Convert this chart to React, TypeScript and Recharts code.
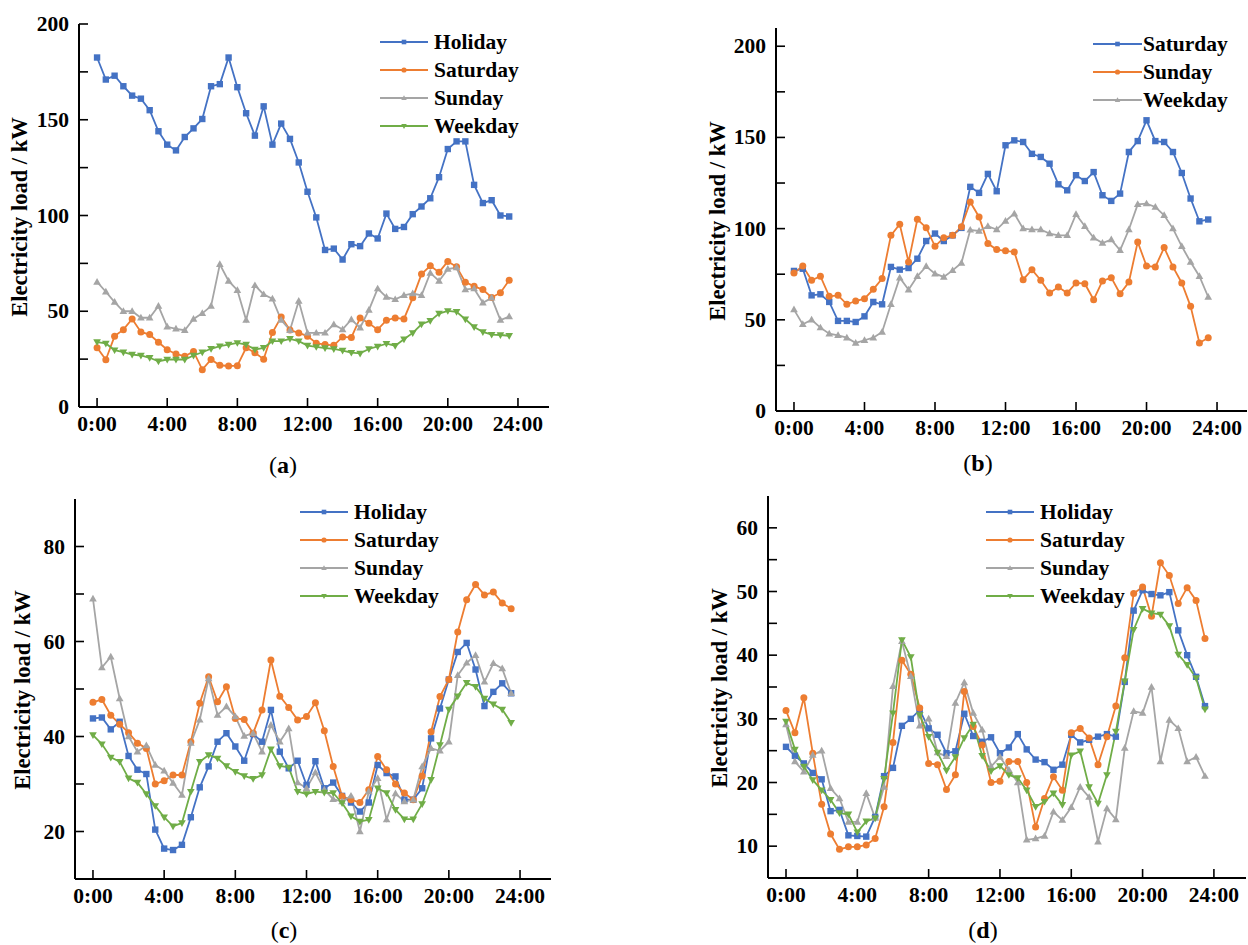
import React from 'react';
import { LineChart, Line, XAxis, YAxis } from 'recharts';

// half-hour sampling points (markers), 0:00 .. 23:30
const HOURS = [
  0, 0.5, 1, 1.5, 2, 2.5, 3, 3.5, 4, 4.5, 5, 5.5, 6, 6.5, 7, 7.5, 8, 8.5, 9, 9.5, 10, 10.5, 11, 11.5,
  12, 12.5, 13, 13.5, 14, 14.5, 15, 15.5, 16, 16.5, 17, 17.5, 18, 18.5, 19, 19.5, 20, 20.5, 21, 21.5,
  22, 22.5, 23, 23.5,
];
const X_TICKS = [0, 4, 8, 12, 16, 20, 24];
const X_LABELS = ['0:00', '4:00', '8:00', '12:00', '16:00', '20:00', '24:00'];

// (a)
const A_HOLIDAY = [
  182.5, 171, 173, 167.5, 162.6, 161, 155, 144, 137, 134, 141, 145.5, 150.4, 167.5, 168.6, 182.5,
  167, 153.4, 141.7, 157, 137, 148, 140, 127.7, 112.4, 99, 82, 82.7, 77, 85, 84, 90.6, 88, 101, 93,
  94, 100.7, 104.7, 109, 120, 134.7, 138.7, 138.7, 116, 106.5, 108, 100, 99.5,
];
const A_SATURDAY = [
  31, 24.7, 37, 40.4, 46, 39.2, 37.8, 33.8, 29.9, 27.7, 26.5, 29, 19.5, 24.8, 21.8, 21.4, 21.6, 30.9,
  28.3, 25, 38.9, 47, 40.2, 38.7, 37, 33.3, 32.6, 32.2, 36.6, 36.3, 46.5, 43.7, 40.4, 45.3, 46.5, 46,
  57, 69.4, 73.7, 70.4, 76, 73.2, 65.2, 63, 61.3, 57.2, 59.7, 66.2,
];
const A_SUNDAY = [
  65.3, 60.2, 54.8, 50, 50, 46.6, 46.6, 52.7, 41.9, 40.8, 40.1, 46, 48.9, 52.7, 74.5, 65.8, 61, 45.4,
  63.5, 58.8, 56.5, 45.4, 40.1, 55.3, 38.7, 38.7, 38.7, 43.1, 40.5, 45.7, 41.4, 50.6, 61.8, 57.4,
  56.2, 58.3, 59.3, 58.3, 70, 65.8, 72, 72.8, 61.4, 61.8, 54.4, 57, 45.4, 47.2,
];
const A_WEEKDAY = [
  33.9, 33.2, 29.7, 28.6, 27.4, 26.9, 25.7, 23.9, 24.8, 24.8, 24.8, 26.9, 28.6, 30.4, 31.8, 32.6,
  33.5, 32.6, 30, 30.9, 34.4, 34.4, 35.6, 34.4, 32.1, 31.4, 30.8, 30.3, 29.5, 28.4, 28, 30.3, 31.6,
  33.1, 32, 35.4, 38.7, 43.2, 45, 48.8, 50.2, 49.7, 45.8, 41.8, 39.2, 37.8, 37.6, 37.2,
];

// (b)
const B_SATURDAY = [
  76.8, 78, 63.4, 64, 59.8, 49.4, 49.4, 48.8, 51.9, 59.8, 58.5, 79, 77.5, 78.4, 83.5, 93.2, 97.3,
  93.2, 96.3, 100.4, 122.9, 119.6, 130, 120.5, 145.7, 148.4, 147.5, 141, 139.3, 135.6, 124.3, 121,
  129.3, 126.1, 131, 118.3, 115.2, 119.2, 142, 148, 159.4, 148, 147.5, 142, 130.5, 116.5, 104, 105,
];
const B_SUNDAY = [
  75.7, 79.5, 71.7, 73.9, 62.9, 63.4, 58.5, 60.3, 61.6, 66.7, 72.6, 96.3, 102.4, 81.7, 105.1, 100.5,
  90.3, 95, 96.3, 101, 114.6, 106.4, 91.8, 88.5, 87.8, 87.2, 72, 77.5, 71.7, 64.7, 68, 64.7, 70.2,
  69.8, 61, 71.3, 73.1, 64.3, 70.7, 92.7, 79.5, 79, 89.6, 79, 70.2, 57.4, 37.3, 40.2,
];
const B_WEEKDAY = [
  55.6, 47.5, 50, 45.7, 42.4, 41.5, 40.2, 37.3, 38.8, 40.2, 43.3, 58.5, 73.1, 66.5, 73.9, 79.3, 75.3,
  73.5, 77.1, 81.2, 99.3, 98.7, 101.3, 99.5, 104.2, 108.2, 100, 99.5, 99.5, 97.3, 96.3, 96.3, 107.9,
  101.3, 95, 92.1, 94, 88.1, 99.5, 113.3, 113.7, 111.9, 107.3, 100, 90.3, 81.7, 73.9, 62.5,
];

// (c)
const C_HOLIDAY = [
  43.8, 44, 41.5, 43.1, 35.9, 33, 32.1, 20.4, 16.4, 16.1, 17.2, 23, 29.3, 33.7, 38.9, 40.7, 37.9,
  34.9, 40.5, 38.9, 45.6, 36.8, 33.3, 34.9, 29.8, 34.8, 29.1, 30.3, 27.5, 26.1, 24.2, 26.1, 34, 32.3,
  31.6, 26.7, 26.7, 29.1, 39.6, 45.9, 52, 57.8, 59.7, 54.1, 46.4, 49.4, 51.2, 49.1,
];
const C_SATURDAY = [
  47.2, 47.8, 44.5, 42.6, 40.8, 38.6, 37.5, 30, 30.7, 31.9, 31.9, 38.9, 47, 52.6, 47.3, 50.5, 43.8,
  43.6, 40.7, 45.6, 56.1, 48.5, 46.1, 43.5, 44.2, 47.1, 41.2, 33.7, 27.4, 26.7, 26.1, 28.8, 35.8, 33,
  30, 28.1, 26.7, 31.7, 41, 48.4, 52, 62, 68.8, 72, 69.8, 70.4, 68.1, 66.9,
];
const C_SUNDAY = [
  69, 54.5, 56.8, 48, 40, 36.8, 38.1, 34, 32.8, 30.2, 27.7, 38.6, 43.5, 52.2, 44.5, 46.3, 44.2, 40.1,
  40.7, 36.8, 42.4, 38.9, 41.7, 30.3, 29.1, 32.4, 28.8, 26.8, 26.3, 27.5, 20, 28.4, 31.2, 22.5, 28,
  26.3, 26.7, 33.7, 37.5, 37, 38.9, 52.9, 55.5, 57.1, 51.5, 55.4, 54.3, 49.1,
];
const C_WEEKDAY = [
  40.3, 38.4, 35.6, 34.7, 31.2, 30.3, 27.9, 25.4, 23, 21.1, 21.8, 28.4, 34.7, 36.1, 35.4, 33.8, 32.6,
  31.7, 31.1, 31.9, 37.3, 33.8, 33.5, 28.4, 27.9, 28.4, 28.2, 28.1, 26, 23.2, 22.1, 22.5, 29.1, 28.1,
  24.6, 22.6, 22.6, 25.8, 30.9, 38.2, 45.7, 48.5, 51.3, 50.5, 48, 46.8, 45.7, 42.9,
];

// (d)
const D_HOLIDAY = [
  25.6, 24.2, 23, 21.5, 20.5, 15.5, 15.7, 11.7, 11.6, 11.5, 14.6, 21, 22.3, 28.9, 30, 31.4, 28.5,
  27.5, 24.6, 24.9, 30.8, 27.3, 26.4, 27.1, 24.6, 25.5, 27.6, 25.2, 23.6, 23.2, 22, 22.8, 27.5, 26.3,
  26.7, 27.2, 27.6, 27.2, 35.8, 47, 50.2, 49.6, 49.4, 49.9, 43.9, 40, 36.6, 32,
];
const D_SATURDAY = [
  31.3, 27.8, 33.3, 24.6, 16.6, 11.9, 9.5, 9.9, 9.9, 10.2, 11.2, 16.2, 26.3, 39.2, 37, 31.7, 23,
  22.8, 18.9, 21.2, 34.3, 28.8, 25.9, 20, 20.2, 23.3, 23.3, 20, 13, 17.5, 20.9, 18.8, 27.8, 28.5, 27,
  22.8, 27.2, 32, 39.6, 49.7, 50.7, 46.1, 54.5, 52.5, 48.1, 50.6, 48.6, 42.6,
];
const D_SUNDAY = [
  29.1, 23.3, 21.7, 24.3, 25, 19.1, 17.5, 13.8, 13.8, 18.3, 14.4, 19.3, 35.1, 42.2, 36.7, 28.9, 30,
  24.7, 24.1, 32.5, 35.7, 30.9, 28.3, 22.5, 24, 22, 20, 11, 11.2, 11.6, 15.4, 14.1, 16.1, 19.3, 17.7,
  10.7, 15.9, 14.2, 25.4, 31.2, 30.9, 35, 23.3, 29.8, 28.5, 23.3, 24, 21,
];
const D_WEEKDAY = [
  29.6, 25.2, 22.5, 20.4, 18.8, 17.3, 15.2, 15, 12.2, 13.9, 14.4, 20.6, 30.9, 42.4, 39.7, 30.6, 27.2,
  24.7, 21.9, 24, 27, 29.1, 24.2, 21.8, 22.6, 21.2, 20.7, 18.8, 16.2, 17, 18.3, 16.5, 24.3, 24.9,
  19.3, 16.7, 21.2, 28, 35.9, 44, 47.3, 46.6, 46.4, 44.6, 40.1, 38.5, 36.4, 31.5,
];

const COLORS = {
  blue: '#4472C4',
  orange: '#ED7D31',
  gray: '#A5A5A5',
  green: '#70AD47',
};
const FONT = '"Liberation Serif", "Times New Roman", serif';
const Y_AXIS_W = 60;
const X_AXIS_H = 40;

type Shape = 'square' | 'circle' | 'up' | 'down';

interface Series {
  key: string;
  name: string;
  values: number[];
  color: string;
  shape: Shape;
}

interface Panel {
  id: string;
  box: { left: number; top: number; width: number; height: number };
  plot: { left: number; right: number; top: number; bottom: number };
  xDomain: [number, number];
  yDomain: [number, number];
  yTicks: number[];
  yLabelStep: number;
  series: Series[];
  legend: { x: number; y: number; lineW: number; gap: number };
  title: { x: number; y: number };
  caption: { x: number; y: number };
}

const PANELS: Panel[] = [
  {
    id: 'a',
    box: { left: 0, top: 0, width: 620, height: 460 },
    plot: { left: 79, right: 549, top: 24, bottom: 407 },
    xDomain: [-1.03, 25.77],
    yDomain: [0, 200],
    yTicks: [0, 25, 50, 75, 100, 125, 150, 175, 200],
    yLabelStep: 50,
    series: [
      { key: 'hol', name: 'Holiday', values: A_HOLIDAY, color: COLORS.blue, shape: 'square' },
      { key: 'sat', name: 'Saturday', values: A_SATURDAY, color: COLORS.orange, shape: 'circle' },
      { key: 'sun', name: 'Sunday', values: A_SUNDAY, color: COLORS.gray, shape: 'up' },
      { key: 'wkd', name: 'Weekday', values: A_WEEKDAY, color: COLORS.green, shape: 'down' },
    ],
    legend: { x: 380, y: 42, lineW: 48, gap: 6 },
    title: { x: 20, y: 217 },
    caption: { x: 283, y: 465 },
  },
  {
    id: 'b',
    box: { left: 620, top: 0, width: 628, height: 460 },
    plot: { left: 776, right: 1247, top: 28, bottom: 411 },
    xDomain: [-1.02, 25.7],
    yDomain: [0, 210],
    yTicks: [0, 25, 50, 75, 100, 125, 150, 175, 200],
    yLabelStep: 50,
    series: [
      { key: 'sat', name: 'Saturday', values: B_SATURDAY, color: COLORS.blue, shape: 'square' },
      { key: 'sun', name: 'Sunday', values: B_SUNDAY, color: COLORS.orange, shape: 'circle' },
      { key: 'wkd', name: 'Weekday', values: B_WEEKDAY, color: COLORS.gray, shape: 'up' },
    ],
    legend: { x: 1093, y: 44, lineW: 49, gap: 1 },
    title: { x: 718, y: 221 },
    caption: { x: 978, y: 463 },
  },
  {
    id: 'c',
    box: { left: 0, top: 480, width: 620, height: 465 },
    plot: { left: 75, right: 551, top: 499, bottom: 879 },
    xDomain: [-1.01, 25.74],
    yDomain: [10, 90],
    yTicks: [20, 30, 40, 50, 60, 70, 80],
    yLabelStep: 20,
    series: [
      { key: 'hol', name: 'Holiday', values: C_HOLIDAY, color: COLORS.blue, shape: 'square' },
      { key: 'sat', name: 'Saturday', values: C_SATURDAY, color: COLORS.orange, shape: 'circle' },
      { key: 'sun', name: 'Sunday', values: C_SUNDAY, color: COLORS.gray, shape: 'up' },
      { key: 'wkd', name: 'Weekday', values: C_WEEKDAY, color: COLORS.green, shape: 'down' },
    ],
    legend: { x: 300, y: 512, lineW: 48, gap: 6 },
    title: { x: 23, y: 690 },
    caption: { x: 284, y: 930 },
  },
  {
    id: 'd',
    box: { left: 620, top: 480, width: 628, height: 465 },
    plot: { left: 768, right: 1246, top: 496, bottom: 878 },
    xDomain: [-1.01, 25.8],
    yDomain: [5, 65],
    yTicks: [10, 15, 20, 25, 30, 35, 40, 45, 50, 55, 60],
    yLabelStep: 10,
    series: [
      { key: 'hol', name: 'Holiday', values: D_HOLIDAY, color: COLORS.blue, shape: 'square' },
      { key: 'sat', name: 'Saturday', values: D_SATURDAY, color: COLORS.orange, shape: 'circle' },
      { key: 'sun', name: 'Sunday', values: D_SUNDAY, color: COLORS.gray, shape: 'up' },
      { key: 'wkd', name: 'Weekday', values: D_WEEKDAY, color: COLORS.green, shape: 'down' },
    ],
    legend: { x: 986, y: 512, lineW: 48, gap: 6 },
    title: { x: 720, y: 688 },
    caption: { x: 983, y: 930 },
  },
];

function Marker({ shape, cx, cy, color, s }: { shape: Shape; cx: number; cy: number; color: string; s: number }) {
  if (shape === 'circle') return <circle cx={cx} cy={cy} r={s + 0.3} fill={color} />;
  let d = '';
  if (shape === 'square') d = `M${cx - s},${cy - s}h${2 * s}v${2 * s}h${-2 * s}Z`;
  if (shape === 'up') d = `M${cx},${cy - s * 1.25}L${cx + s * 1.2},${cy + s * 0.85}L${cx - s * 1.2},${cy + s * 0.85}Z`;
  if (shape === 'down') d = `M${cx},${cy + s * 1.25}L${cx + s * 1.2},${cy - s * 0.85}L${cx - s * 1.2},${cy - s * 0.85}Z`;
  return <path d={d} fill={color} />;
}

const makeDot = (shape: Shape, color: string) => (props: any) => {
  const { cx, cy, index } = props;
  if (cx == null || cy == null) return <g key={`e-${index}`} />;
  return <Marker key={`${shape}-${index}`} shape={shape} cx={cx} cy={cy} color={color} s={3.2} />;
};

const makeYTick = (labelStep: number) => (props: any) => {
  const { x, y, payload } = props;
  const v = payload.value as number;
  const major = Math.abs(v % labelStep) < 1e-6;
  return (
    <g>
      <line x1={x} x2={x + 9} y1={y} y2={y} stroke="#000" strokeWidth={1.6} />
      {major && (
        <text
          x={x - 10}
          y={y}
          textAnchor="end"
          dominantBaseline="central"
          fontFamily={FONT}
          fontWeight="bold"
          fontSize={21.5}
          fill="#000"
        >
          {v}
        </text>
      )}
    </g>
  );
};

const renderXTick = (props: any) => {
  const { x, y, payload } = props;
  const i = X_TICKS.indexOf(payload.value);
  return (
    <g>
      <line x1={x} x2={x} y1={y} y2={y - 9} stroke="#000" strokeWidth={1.6} />
      <text
        x={x}
        y={y + 17}
        textAnchor="middle"
        dominantBaseline="central"
        fontFamily={FONT}
        fontWeight="bold"
        fontSize={21.5}
        fill="#000"
      >
        {X_LABELS[i]}
      </text>
    </g>
  );
};

function LoadPanel({ panel }: { panel: Panel }) {
  const { box, plot } = panel;
  const data = HOURS.map((h, i) => {
    const row: Record<string, number> = { h };
    panel.series.forEach((s) => {
      row[s.key] = s.values[i];
    });
    return row;
  });
  const margin = {
    left: plot.left - box.left - Y_AXIS_W,
    right: box.left + box.width - plot.right,
    top: plot.top - box.top,
    bottom: box.top + box.height - plot.bottom - X_AXIS_H,
  };

  return (
    <div style={{ position: 'absolute', left: box.left, top: box.top }}>
      <LineChart width={box.width} height={box.height} data={data} margin={margin}>
        <XAxis
          dataKey="h"
          type="number"
          domain={panel.xDomain}
          allowDataOverflow
          ticks={X_TICKS}
          interval={0}
          height={X_AXIS_H}
          tickSize={0}
          tickMargin={0}
          tick={renderXTick}
          tickLine={false}
          axisLine={{ stroke: '#000', strokeWidth: 2 }}
        />
        <YAxis
          type="number"
          domain={panel.yDomain}
          allowDataOverflow
          ticks={panel.yTicks}
          interval={0}
          width={Y_AXIS_W}
          tickSize={0}
          tickMargin={0}
          tick={makeYTick(panel.yLabelStep)}
          tickLine={false}
          axisLine={{ stroke: '#000', strokeWidth: 2 }}
        />
        {panel.series.map((s) => (
          <Line
            key={s.key}
            type="linear"
            dataKey={s.key}
            name={s.name}
            stroke={s.color}
            strokeWidth={1.8}
            dot={makeDot(s.shape, s.color)}
            activeDot={false}
            isAnimationActive={false}
          />
        ))}
      </LineChart>
    </div>
  );
}

function PanelLegend({ panel }: { panel: Panel }) {
  const { x, y, lineW, gap } = panel.legend;
  const rowH = 28;
  const w = 200;
  const h = rowH * panel.series.length + 10;
  return (
    <svg
      width={w}
      height={h}
      style={{ position: 'absolute', left: x, top: y - 14, overflow: 'visible' }}
    >
      {panel.series.map((s, i) => {
        const cy = 14 + i * rowH;
        return (
          <g key={s.key}>
            <line x1={0} x2={lineW} y1={cy} y2={cy} stroke={s.color} strokeWidth={1.8} />
            <Marker shape={s.shape} cx={lineW / 2} cy={cy} color={s.color} s={2.3} />
            <text
              x={lineW + gap}
              y={cy}
              dominantBaseline="central"
              fontFamily={FONT}
              fontWeight="bold"
              fontSize={21.5}
              fill="#000"
            >
              {s.name}
            </text>
          </g>
        );
      })}
    </svg>
  );
}

export default function App() {
  return (
    <div
      style={{
        position: 'absolute',
        left: 0,
        top: 0,
        width: 1248,
        height: 945,
        background: '#fff',
        fontFamily: FONT,
        overflow: 'hidden',
      }}
    >
      {PANELS.map((p) => (
        <React.Fragment key={p.id}>
          <LoadPanel panel={p} />
          <PanelLegend panel={p} />
          <div
            style={{
              position: 'absolute',
              left: p.title.x,
              top: p.title.y,
              transform: 'translate(-50%, -50%) rotate(-90deg)',
              whiteSpace: 'nowrap',
              fontWeight: 'bold',
              fontSize: 22.5,
              color: '#000',
            }}
          >
            Electricity load / kW
          </div>
          <div
            style={{
              position: 'absolute',
              left: p.caption.x,
              top: p.caption.y,
              transform: 'translate(-50%, -50%)',
              fontSize: 24,
              color: '#000',
            }}
          >
            (<b>{p.id}</b>)
          </div>
        </React.Fragment>
      ))}
    </div>
  );
}
